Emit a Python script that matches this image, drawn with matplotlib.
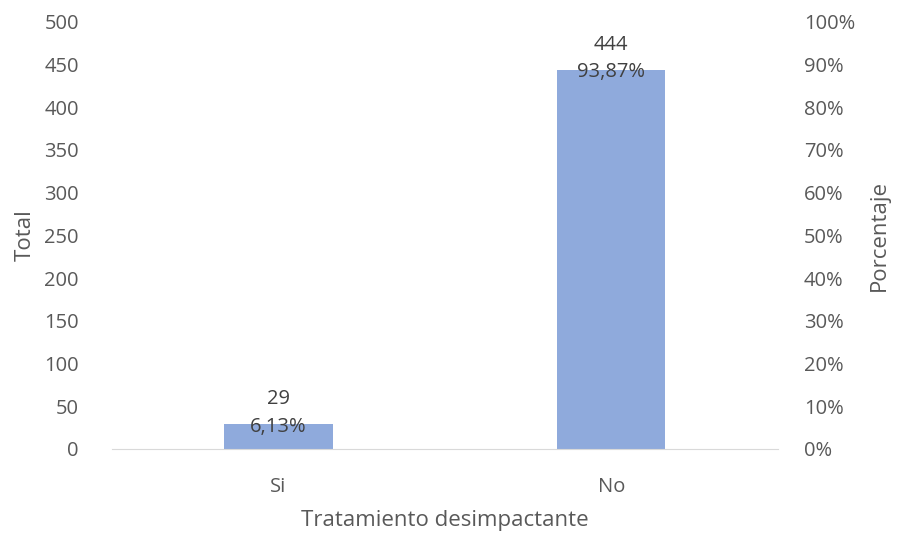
import matplotlib.pyplot as plt

categorias = ['Si', 'No']
totales = [29, 444]
porcentajes = ['6,13%', '93,87%']

plt.rcParams['font.family'] = ['Open Sans', 'DejaVu Sans']
gris = '#595959'

fig = plt.figure(figsize=(8.97, 5.33), dpi=100)
ax = fig.add_axes([0.125, 0.158, 0.742, 0.801])
x = range(len(categorias))
ax.bar(x, totales, width=0.325, color='#8FAADC')
ax.set_xlim(-0.5, 1.5)
ax.set_ylim(0, 500)
ax.set_yticks(range(0, 501, 50))
ax.set_xticks(list(x))
ax.set_xticklabels(categorias)

# total sobre la barra y porcentaje en el borde superior
for i, (t, p) in enumerate(zip(totales, porcentajes)):
    ax.annotate(str(t), (i, t), xytext=(0, 18), textcoords='offset points',
                ha='center', va='center', fontsize=14.5, color='#404040')
    ax.annotate(p, (i, t), xytext=(0, -2), textcoords='offset points',
                ha='center', va='center', fontsize=14.5, color='#404040')

ax2 = ax.twinx()
ax2.set_ylim(0, 100)
ax2.set_yticks(range(0, 101, 10))
ax2.set_yticklabels([f'{v}%' for v in range(0, 101, 10)])

for a in (ax, ax2):
    for s in a.spines.values():
        s.set_visible(False)
    a.tick_params(length=0, labelsize=14.5, labelcolor=gris)
ax.spines['bottom'].set_visible(True)
ax.spines['bottom'].set_color('#D9D9D9')
ax.tick_params(axis='x', pad=20)
ax.tick_params(axis='y', pad=24)
ax2.tick_params(axis='y', pad=19)

ax.set_ylabel('Total', fontsize=16, color=gris, labelpad=6)
ax2.set_ylabel('Porcentaje', fontsize=16, color=gris, labelpad=10)
ax.set_xlabel('Tratamiento desimpactante', fontsize=16, color=gris, labelpad=10)

fig.savefig('out.png', dpi=100)
